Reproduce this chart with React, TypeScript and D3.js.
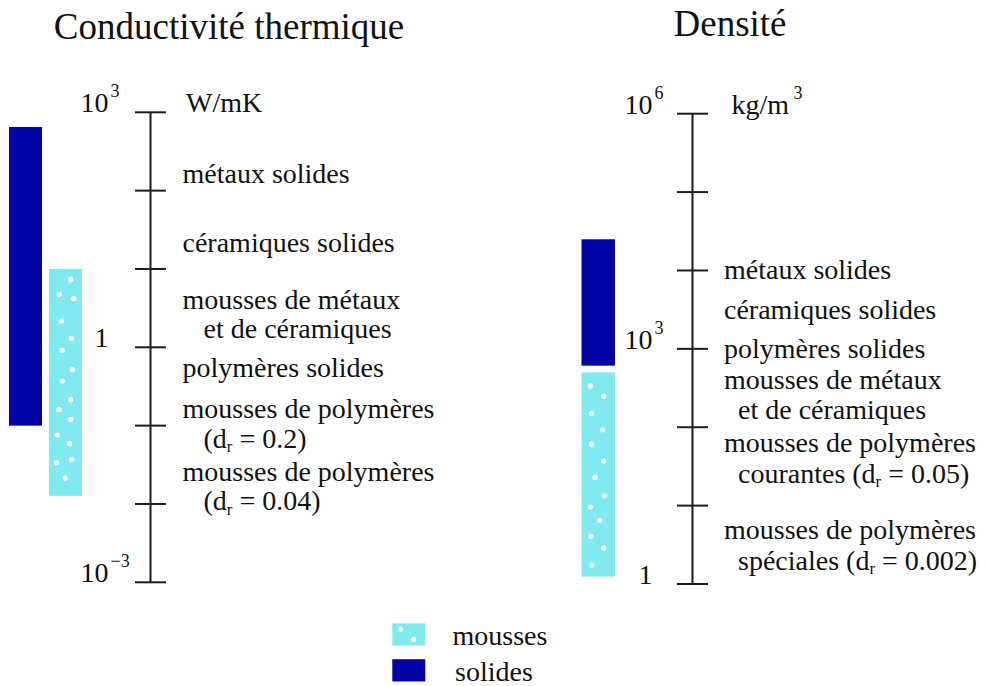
import React, { useLayoutEffect } from 'react';
import * as d3 from 'd3';

// ---------- data ----------
const seriesNames = ['solides', 'mousses'];
const seriesColors = ['#0303a6', '#80eaf0'];

// conductivity ranges (W/mK)
const conductivityLow = [0.1, 0.0127];
const conductivityHigh = [650, 10];
// density ranges (kg/m3)
const densityLow = [610, 1.24];
const densityHigh = [25000, 500];

const conductivityTicks = [1e3, 1e2, 1e1, 1, 1e-1, 1e-2, 1e-3];
const conductivityLabelValues = [1e3, 1, 1e-3];
const conductivityLabelBases = ['10', '1', '10'];
const conductivityLabelExps = ['3', '', '\u22123'];

const densityTicks = [1e6, 1e5, 1e4, 1e3, 1e2, 1e1, 1];
const densityLabelValues = [1e6, 1e3, 1];
const densityLabelBases = ['10', '10', '1'];
const densityLabelExps = ['6', '3', ''];

const conductivityClassAnchors = [126, 16.6, 3.11, 0.418, 0.125, 0.0199];
const conductivityClassLines = [
  ['métaux solides'],
  ['céramiques solides'],
  ['mousses de métaux', '   et de céramiques'],
  ['polymères solides'],
  ['mousses de polymères', '   (d{r} = 0.2)'],
  ['mousses de polymères', '   (d{r} = 0.04)'],
];

const densityClassAnchors = [7710, 2420, 764, 310, 48.3, 3.75];
const densityClassLines = [
  ['métaux solides'],
  ['céramiques solides'],
  ['polymères solides'],
  ['mousses de métaux', '  et de céramiques'],
  ['mousses de polymères', '  courantes (d{r} = 0.05)'],
  ['mousses de polymères', '  spéciales (d{r} = 0.002)'],
];

const titles = ['Conductivité thermique', 'Densité'];
const unitBases = ['W/mK', 'kg/m'];
const unitExps = ['', '3'];

// foam texture (relative positions inside the bar)
const foamDotsConductivity = [
  [0.66, 0.046], [0.31, 0.113], [0.75, 0.131], [0.37, 0.229], [0.68, 0.306],
  [0.4, 0.359], [0.71, 0.444], [0.4, 0.494], [0.66, 0.576], [0.3, 0.62],
  [0.66, 0.664], [0.25, 0.732], [0.62, 0.77], [0.69, 0.84], [0.23, 0.855], [0.49, 0.922],
];
const foamDotsDensity = [
  [0.26, 0.066], [0.66, 0.117], [0.3, 0.201], [0.63, 0.281], [0.3, 0.351],
  [0.66, 0.434], [0.4, 0.514], [0.68, 0.604], [0.26, 0.659], [0.55, 0.724],
  [0.28, 0.802], [0.66, 0.86], [0.31, 0.943],
];
const foamDotsLegend = [[0.25, 0.26], [0.64, 0.72]];

// ---------- styles ----------
const FONT = '"Liberation Serif", "Times New Roman", Times, serif';
const TEXT = '#111';
const AXIS = '#1c1c1c';
const SUB_SHIFT = 4.5;

function RichLine({ x, y, text, size }: { x: number; y: number; text: string; size: number }) {
  const parts = text.split(/(\{[^}]+\})/).filter((p) => p.length);
  let shifted = false;
  return (
    <text x={x} y={y} fontSize={size} fontFamily={FONT} fill={TEXT} style={{ whiteSpace: 'pre' }}>
      {parts.map((p, i) => {
        if (p.startsWith('{')) {
          shifted = true;
          return (
            <tspan key={i} dy={SUB_SHIFT} fontSize={size * 0.6}>
              {p.slice(1, -1)}
            </tspan>
          );
        }
        const dy = shifted ? -SUB_SHIFT : 0;
        shifted = false;
        return (
          <tspan key={i} dy={dy}>
            {p}
          </tspan>
        );
      })}
    </text>
  );
}

function Foam({ x, y, w, h, dots }: { x: number; y: number; w: number; h: number; dots: number[][] }) {
  return (
    <g>
      {dots.map(([fx, fy], i) => (
        <circle key={i} cx={x + fx * w} cy={y + fy * h} r={2.6} fill="#ffffff" />
      ))}
    </g>
  );
}

type PanelProps = {
  scale: d3.ScaleLogarithmic<number, number>;
  axisX: number;
  ticks: number[];
  labelValues: number[];
  labelBases: string[];
  labelExps: string[];
  labelEndX: number;
  classAnchors: number[];
  classLines: string[][];
  classX: number;
  lineGap: number;
  low: number[];
  high: number[];
  bandX: (name: string) => number;
  bandW: number;
  dots: number[][];
  title: string;
  titleX: number;
  titleY: number;
  unitBase: string;
  unitExp: string;
  unitX: number;
};

function Panel(p: PanelProps) {
  const y = p.scale;
  const yTop = y(p.ticks[0]);
  const yBot = y(p.ticks[p.ticks.length - 1]);
  const unitW = p.unitBase === 'W/mK' ? 0 : 57;
  return (
    <g>
      <text x={p.titleX} y={p.titleY} fontSize={37} fontFamily={FONT} fill={TEXT} textAnchor="middle">
        {p.title}
      </text>
      {seriesNames.map((name, i) => {
        const x = p.bandX(name);
        const top = y(p.high[i]);
        const bot = y(p.low[i]);
        return (
          <g key={name}>
            <rect x={x} y={top} width={p.bandW} height={bot - top} fill={seriesColors[i]} />
            {name === 'mousses' && <Foam x={x} y={top} w={p.bandW} h={bot - top} dots={p.dots} />}
          </g>
        );
      })}
      <line x1={p.axisX} x2={p.axisX} y1={yTop} y2={yBot} stroke={AXIS} strokeWidth={2} />
      {p.ticks.map((t) => (
        <line key={t} x1={p.axisX - 15.5} x2={p.axisX + 15.5} y1={y(t)} y2={y(t)} stroke={AXIS} strokeWidth={2} />
      ))}
      {p.labelValues.map((v, i) => (
        <g key={v}>
          <text x={p.labelEndX} y={y(v)} fontSize={28} fontFamily={FONT} fill={TEXT} textAnchor="end">
            {p.labelBases[i]}
          </text>
          {p.labelExps[i] && (
            <text x={p.labelEndX + 2} y={y(v) - 15} fontSize={18} fontFamily={FONT} fill={TEXT}>
              {p.labelExps[i]}
            </text>
          )}
        </g>
      ))}
      <text x={p.unitX} y={yTop} fontSize={28} fontFamily={FONT} fill={TEXT}>
        {p.unitBase}
      </text>
      {p.unitExp && (
        <text x={p.unitX + unitW + 5} y={yTop - 15} fontSize={18} fontFamily={FONT} fill={TEXT}>
          {p.unitExp}
        </text>
      )}
      {p.classAnchors.map((v, i) => (
        <g key={i}>
          {p.classLines[i].map((line, j) => (
            <RichLine key={j} x={p.classX} y={y(v) + j * p.lineGap} text={line} size={28} />
          ))}
        </g>
      ))}
    </g>
  );
}

export default function App() {
  useLayoutEffect(() => {
    document.body.style.margin = '0';
  }, []);

  const yCond = d3.scaleLog().domain([1e-3, 1e3]).range([582.3, 112.3]);
  const yDens = d3.scaleLog().domain([1, 1e6]).range([584, 113.7]);

  const xCond = d3.scaleBand<string>().domain(['solides', 'mousses']).range([9, 82]).paddingInner(0.175);
  const xDens = d3.scaleBand<string>().domain(['all']).range([581.5, 615]);

  const legendY = d3.scaleBand<string>().domain(['mousses', 'solides']).range([623.3, 681.5]).paddingInner(0.38);

  return (
    <svg width={986} height={686} viewBox="0 0 986 686" style={{ display: 'block', background: '#fff' }}>
      <rect x={0} y={0} width={986} height={686} fill="#fff" />
      <Panel
        scale={yCond}
        axisX={150.5}
        ticks={conductivityTicks}
        labelValues={conductivityLabelValues}
        labelBases={conductivityLabelBases}
        labelExps={conductivityLabelExps}
        labelEndX={108.5}
        classAnchors={conductivityClassAnchors}
        classLines={conductivityClassLines}
        classX={182.5}
        lineGap={29.5}
        low={conductivityLow}
        high={conductivityHigh}
        bandX={(n) => xCond(n) as number}
        bandW={xCond.bandwidth()}
        dots={foamDotsConductivity}
        title={titles[0]}
        titleX={229}
        titleY={39}
        unitBase={unitBases[0]}
        unitExp={unitExps[0]}
        unitX={186}
      />
      <Panel
        scale={yDens}
        axisX={692.5}
        ticks={densityTicks}
        labelValues={densityLabelValues}
        labelBases={densityLabelBases}
        labelExps={densityLabelExps}
        labelEndX={652.5}
        classAnchors={densityClassAnchors}
        classLines={densityClassLines}
        classX={724}
        lineGap={30.5}
        low={densityLow}
        high={densityHigh}
        bandX={() => xDens('all') as number}
        bandW={xDens.bandwidth()}
        dots={foamDotsDensity}
        title={titles[1]}
        titleX={730}
        titleY={36}
        unitBase={unitBases[1]}
        unitExp={unitExps[1]}
        unitX={731.5}
      />
      {['mousses', 'solides'].map((name) => {
        const i = seriesNames.indexOf(name);
        const yy = legendY(name) as number;
        const h = legendY.bandwidth();
        return (
          <g key={name}>
            <rect x={392.3} y={yy} width={33} height={h} fill={seriesColors[i]} />
            {name === 'mousses' && <Foam x={392.3} y={yy} w={33} h={h} dots={foamDotsLegend} />}
            <text x={name === 'mousses' ? 452.5 : 455} y={yy + h - 0.5} fontSize={28} fontFamily={FONT} fill={TEXT}>
              {name}
            </text>
          </g>
        );
      })}
    </svg>
  );
}
